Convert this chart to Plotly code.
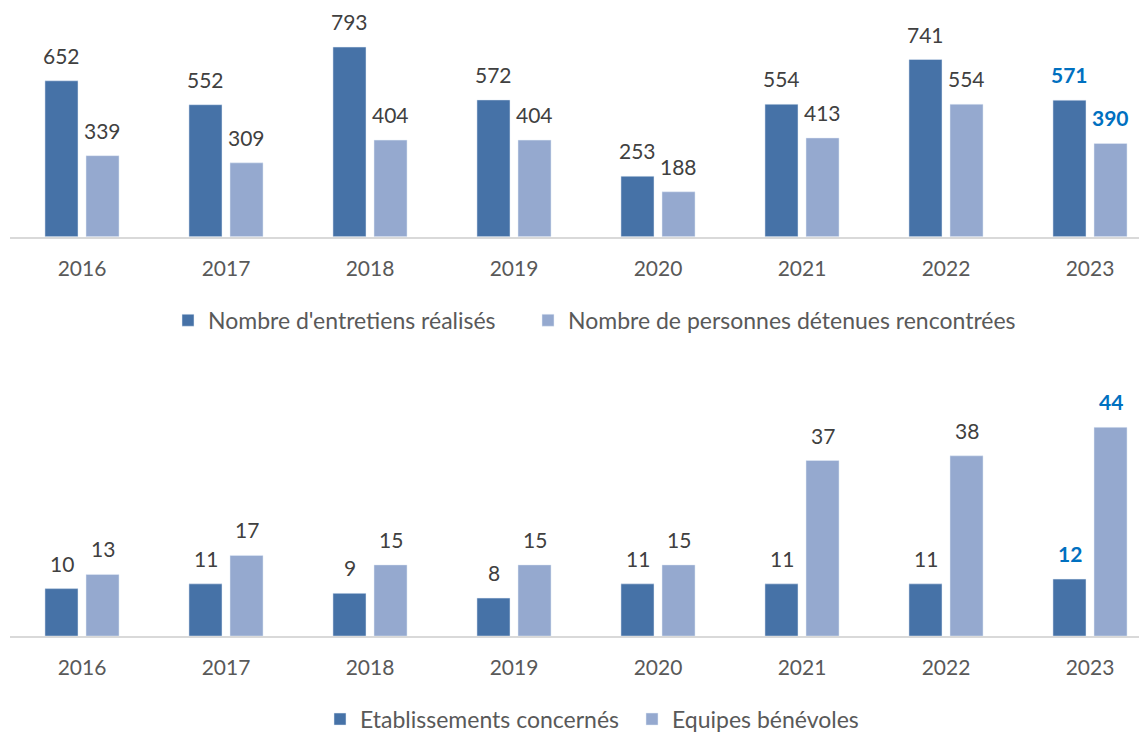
import plotly.graph_objects as go

years = ["2016", "2017", "2018", "2019", "2020", "2021", "2022", "2023"]
entretiens = [652, 552, 793, 572, 253, 554, 741, 571]
personnes = [339, 309, 404, 404, 188, 413, 554, 390]
etablissements = [10, 11, 9, 8, 11, 11, 11, 12]
equipes = [13, 17, 15, 15, 15, 37, 38, 44]

name_entretiens = "Nombre d'entretiens réalisés"
name_personnes = "Nombre de personnes détenues rencontrées"
name_etab = "Etablissements concernés"
name_equipes = "Equipes bénévoles"

DARK = "#4672A7"
LIGHT = "#95A9CF"
HIGHLIGHT = "#0070C0"
TXT = "#404040"
AXTXT = "#595959"
FONT = "Lato"
HL_YEAR = years[-1]

W, H = 1147, 733
OFF = 8  # page body margin
PLOT_W = W - (10 - OFF)
fig = go.Figure()

fig.add_trace(go.Bar(x=years, y=entretiens, name=name_entretiens, marker_color=DARK,
                     xaxis="x", yaxis="y", legend="legend"))
fig.add_trace(go.Bar(x=years, y=personnes, name=name_personnes, marker_color=LIGHT,
                     xaxis="x", yaxis="y", legend="legend2"))
fig.add_trace(go.Bar(x=years, y=etablissements, name=name_etab, marker_color=DARK,
                     xaxis="x2", yaxis="y2", legend="legend3"))
fig.add_trace(go.Bar(x=years, y=equipes, name=name_equipes, marker_color=LIGHT,
                     xaxis="x2", yaxis="y2", legend="legend4"))

annotations = []
SHIFT = 20.5
for series, xs, ax in [(entretiens, -SHIFT, ("x", "y")),
                       (personnes, SHIFT, ("x", "y")),
                       (etablissements, -SHIFT, ("x2", "y2")),
                       (equipes, SHIFT, ("x2", "y2"))]:
    for i, (yr, v) in enumerate(zip(years, series)):
        hl = yr == HL_YEAR
        annotations.append(dict(
            x=i, y=v, xref=ax[0], yref=ax[1],
            text=("<b>%d</b>" % v) if hl else str(v), showarrow=False,
            xshift=xs, yshift=11, yanchor="bottom", xanchor="center",
            font=dict(family=FONT, size=21, color=HIGHLIGHT if hl else TXT),
        ))

xr = [-0.5, PLOT_W / 144 - 0.5]
fh = H
TOP_BASE_PX = 238
BOT_BASE_PX = 639.5
top_base = 1 - (TOP_BASE_PX - OFF) / fh
bot_base = 1 - (BOT_BASE_PX - OFF) / fh
bot_top = 1 - (350 - OFF) / fh

common_x = dict(type="category", range=xr, showline=True, linecolor="#D9D9D9", linewidth=2,
                ticks="outside", ticklen=12, tickcolor="rgba(0,0,0,0)",
                tickfont=dict(family=FONT, size=21, color=AXTXT), showgrid=False,
                fixedrange=True)
common_y = dict(visible=False, showgrid=False, fixedrange=True)


def px2paper(px):
    return (px - 10) / PLOT_W


def leg(square_px, center_y_px):
    return dict(orientation="h", x=px2paper(square_px - 15), xanchor="left",
                y=1 - (center_y_px - OFF) / fh, yanchor="middle",
                font=dict(family=FONT, size=23, color=AXTXT), bgcolor="rgba(0,0,0,0)")


fig.update_layout(
    width=W, height=fh,
    margin=dict(l=10 - OFF, r=0, t=0, b=0),
    paper_bgcolor="white", plot_bgcolor="white",
    barmode="group", bargap=0.43, bargroupgap=0.195,
    xaxis=dict(domain=[0, 1], anchor="y", **common_x),
    yaxis=dict(domain=[top_base, 1], range=[0, (TOP_BASE_PX - OFF) / 0.2405], anchor="x", **common_y),
    xaxis2=dict(domain=[0, 1], anchor="y2", **common_x),
    yaxis2=dict(domain=[bot_base, bot_top], range=[0, (BOT_BASE_PX - 350) / 4.77], anchor="x2", **common_y),
    legend=leg(183, 322),
    legend2=leg(543, 322),
    legend3=leg(335, 723),
    legend4=leg(647, 723),
    annotations=annotations,
    showlegend=True,
)

fig.write_html("out.html", config={"displayModeBar": False})
